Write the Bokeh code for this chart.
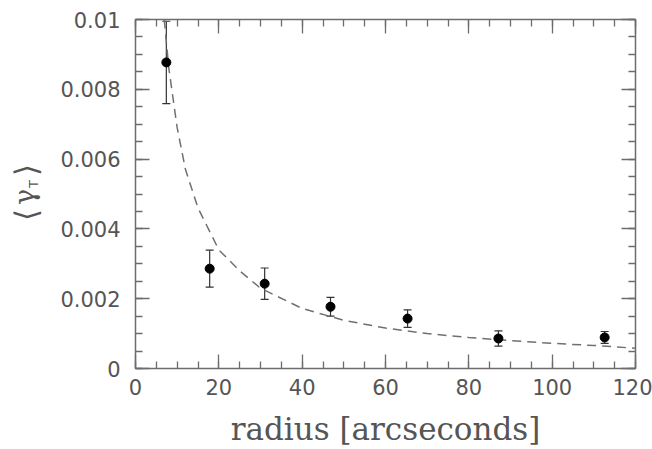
import math
from bokeh.plotting import figure
from bokeh.layouts import row
from bokeh.core.properties import value
from bokeh.models import (ColumnDataSource, Range1d, LinearAxis, FixedTicker,
                          Whisker, TeeHead)
from bokeh.embed import file_html
from bokeh.resources import INLINE

# ---- data ----
radius = [7.4, 17.8, 31.0, 46.8, 65.3, 87.1, 112.6]
gamma_t = [0.00877, 0.00286, 0.00243, 0.00177, 0.00143, 0.00086, 0.00089]
gamma_err = [0.00118, 0.00053, 0.00045, 0.00027, 0.00025, 0.00022, 0.00017]

model_radius = [6.9, 8, 10, 12, 15, 20, 25, 30, 40, 50, 60, 70, 80, 90, 100, 110, 120]
model_gamma = [0.0100, 0.0086, 0.0069, 0.0057, 0.0046, 0.0034, 0.0028, 0.0023,
               0.00172, 0.00138, 0.00116, 0.00100, 0.00089, 0.00080, 0.00072,
               0.00066, 0.00058]

x_ticks = [0, 20, 40, 60, 80, 100, 120]
x_tick_labels = ["0", "20", "40", "60", "80", "100", "120"]
x_minor = [5 * i for i in range(25)]
y_ticks = [0.0, 0.002, 0.004, 0.006, 0.008, 0.01]
y_tick_labels = ["0", "0.002", "0.004", "0.006", "0.008", "0.01"]
y_minor = [0.0005 * i for i in range(21)]

H = 449
LW = 48
W = 652 - LW
TOP, BOTTOM = 19, 80
GRAY = "#555555"
FRAME = "#6c6c6c"

p = figure(width=W, height=H, output_backend="svg", toolbar_location=None,
           x_range=Range1d(0, 120), y_range=Range1d(0, 0.01),
           min_border_left=135 - LW, min_border_right=17, min_border_top=TOP,
           min_border_bottom=BOTTOM, x_axis_location=None, y_axis_location=None)
p.outline_line_color = None
p.xgrid.visible = False
p.ygrid.visible = False
p.background_fill_color = "white"
p.border_fill_color = "white"


def style_axis(ax, show_labels):
    ax.axis_line_color = FRAME
    ax.axis_line_width = 1.5
    ax.major_tick_line_color = FRAME
    ax.minor_tick_line_color = FRAME
    ax.major_tick_line_width = 1.3
    ax.minor_tick_line_width = 1.3
    ax.major_tick_in = 14
    ax.major_tick_out = 0
    ax.minor_tick_in = 7
    ax.minor_tick_out = 0
    if show_labels:
        ax.major_label_text_font = "DejaVu Sans"
        ax.major_label_text_font_size = "21px"
        ax.major_label_text_color = GRAY
    else:
        ax.major_label_text_font_size = "0px"
        ax.major_label_text_alpha = 0
        ax.major_label_standoff = 0


xb = LinearAxis(ticker=FixedTicker(ticks=x_ticks, minor_ticks=x_minor),
                major_label_overrides=dict(zip(x_ticks, x_tick_labels)))
style_axis(xb, True)
xb.major_label_standoff = 10
xb.axis_label = "radius [arcseconds]"
xb.axis_label_text_font = "DejaVu Serif"
xb.axis_label_text_font_size = "31px"
xb.axis_label_text_font_style = "normal"
xb.axis_label_text_color = GRAY
xb.axis_label_standoff = 13
p.add_layout(xb, "below")

yl = LinearAxis(ticker=FixedTicker(ticks=y_ticks, minor_ticks=y_minor),
                major_label_overrides=dict(zip(y_ticks, y_tick_labels)))
style_axis(yl, True)
yl.major_label_standoff = 15
p.add_layout(yl, "left")

xt = LinearAxis(ticker=FixedTicker(ticks=x_ticks, minor_ticks=x_minor))
style_axis(xt, False)
p.add_layout(xt, "above")

yr = LinearAxis(ticker=FixedTicker(ticks=y_ticks, minor_ticks=y_minor))
style_axis(yr, False)
p.add_layout(yr, "right")

# model curve
p.line(model_radius, model_gamma, line_color="#707070", line_width=1.5,
       line_dash="9 6")

# data with error bars
upper = [g + e for g, e in zip(gamma_t, gamma_err)]
lower = [g - e for g, e in zip(gamma_t, gamma_err)]
src = ColumnDataSource(dict(x=radius, y=gamma_t, upper=upper, lower=lower))
wh = Whisker(base="x", upper="upper", lower="lower", source=src,
             line_color="#333333", line_width=1.2,
             upper_head=TeeHead(size=8, line_color="#333333", line_width=1.2),
             lower_head=TeeHead(size=8, line_color="#333333", line_width=1.2))
p.add_layout(wh)
p.scatter("x", "y", source=src, size=9, color="black")

# ---- left strip carrying the rotated y-axis label <gamma_T> ----
# its frame is aligned with the main frame; y range in page pixels (flipped)
q = figure(width=LW, height=H, output_backend="svg", toolbar_location=None,
           x_range=Range1d(0, LW), y_range=Range1d(BOTTOM, H - TOP),
           min_border_left=0, min_border_right=0, min_border_top=TOP,
           min_border_bottom=BOTTOM, x_axis_location=None, y_axis_location=None)
q.outline_line_color = None
q.xgrid.visible = False
q.ygrid.visible = False
q.background_fill_color = "white"
q.border_fill_color = "white"
rot = math.pi / 2
q.text(x=[25, 25], y=[H - 215, H - 170], text=["⟨", "⟩"], angle=rot,
       text_align="center", text_baseline="middle",
       text_font=value("DejaVu Sans"), text_font_size=value("31px"),
       text_color=GRAY)
q.text(x=[24], y=[H - 197], text=["γ"], angle=rot,
       text_align="center", text_baseline="middle",
       text_font=value("DejaVu Serif"), text_font_size=value("27px"),
       text_color=GRAY)
q.text(x=[33], y=[H - 184], text=["T"], angle=rot,
       text_align="center", text_baseline="middle",
       text_font=value("DejaVu Sans"), text_font_size=value("13px"),
       text_color=GRAY)

layout = row(q, p, spacing=0)
open("out.html", "w").write(file_html(layout, INLINE))
